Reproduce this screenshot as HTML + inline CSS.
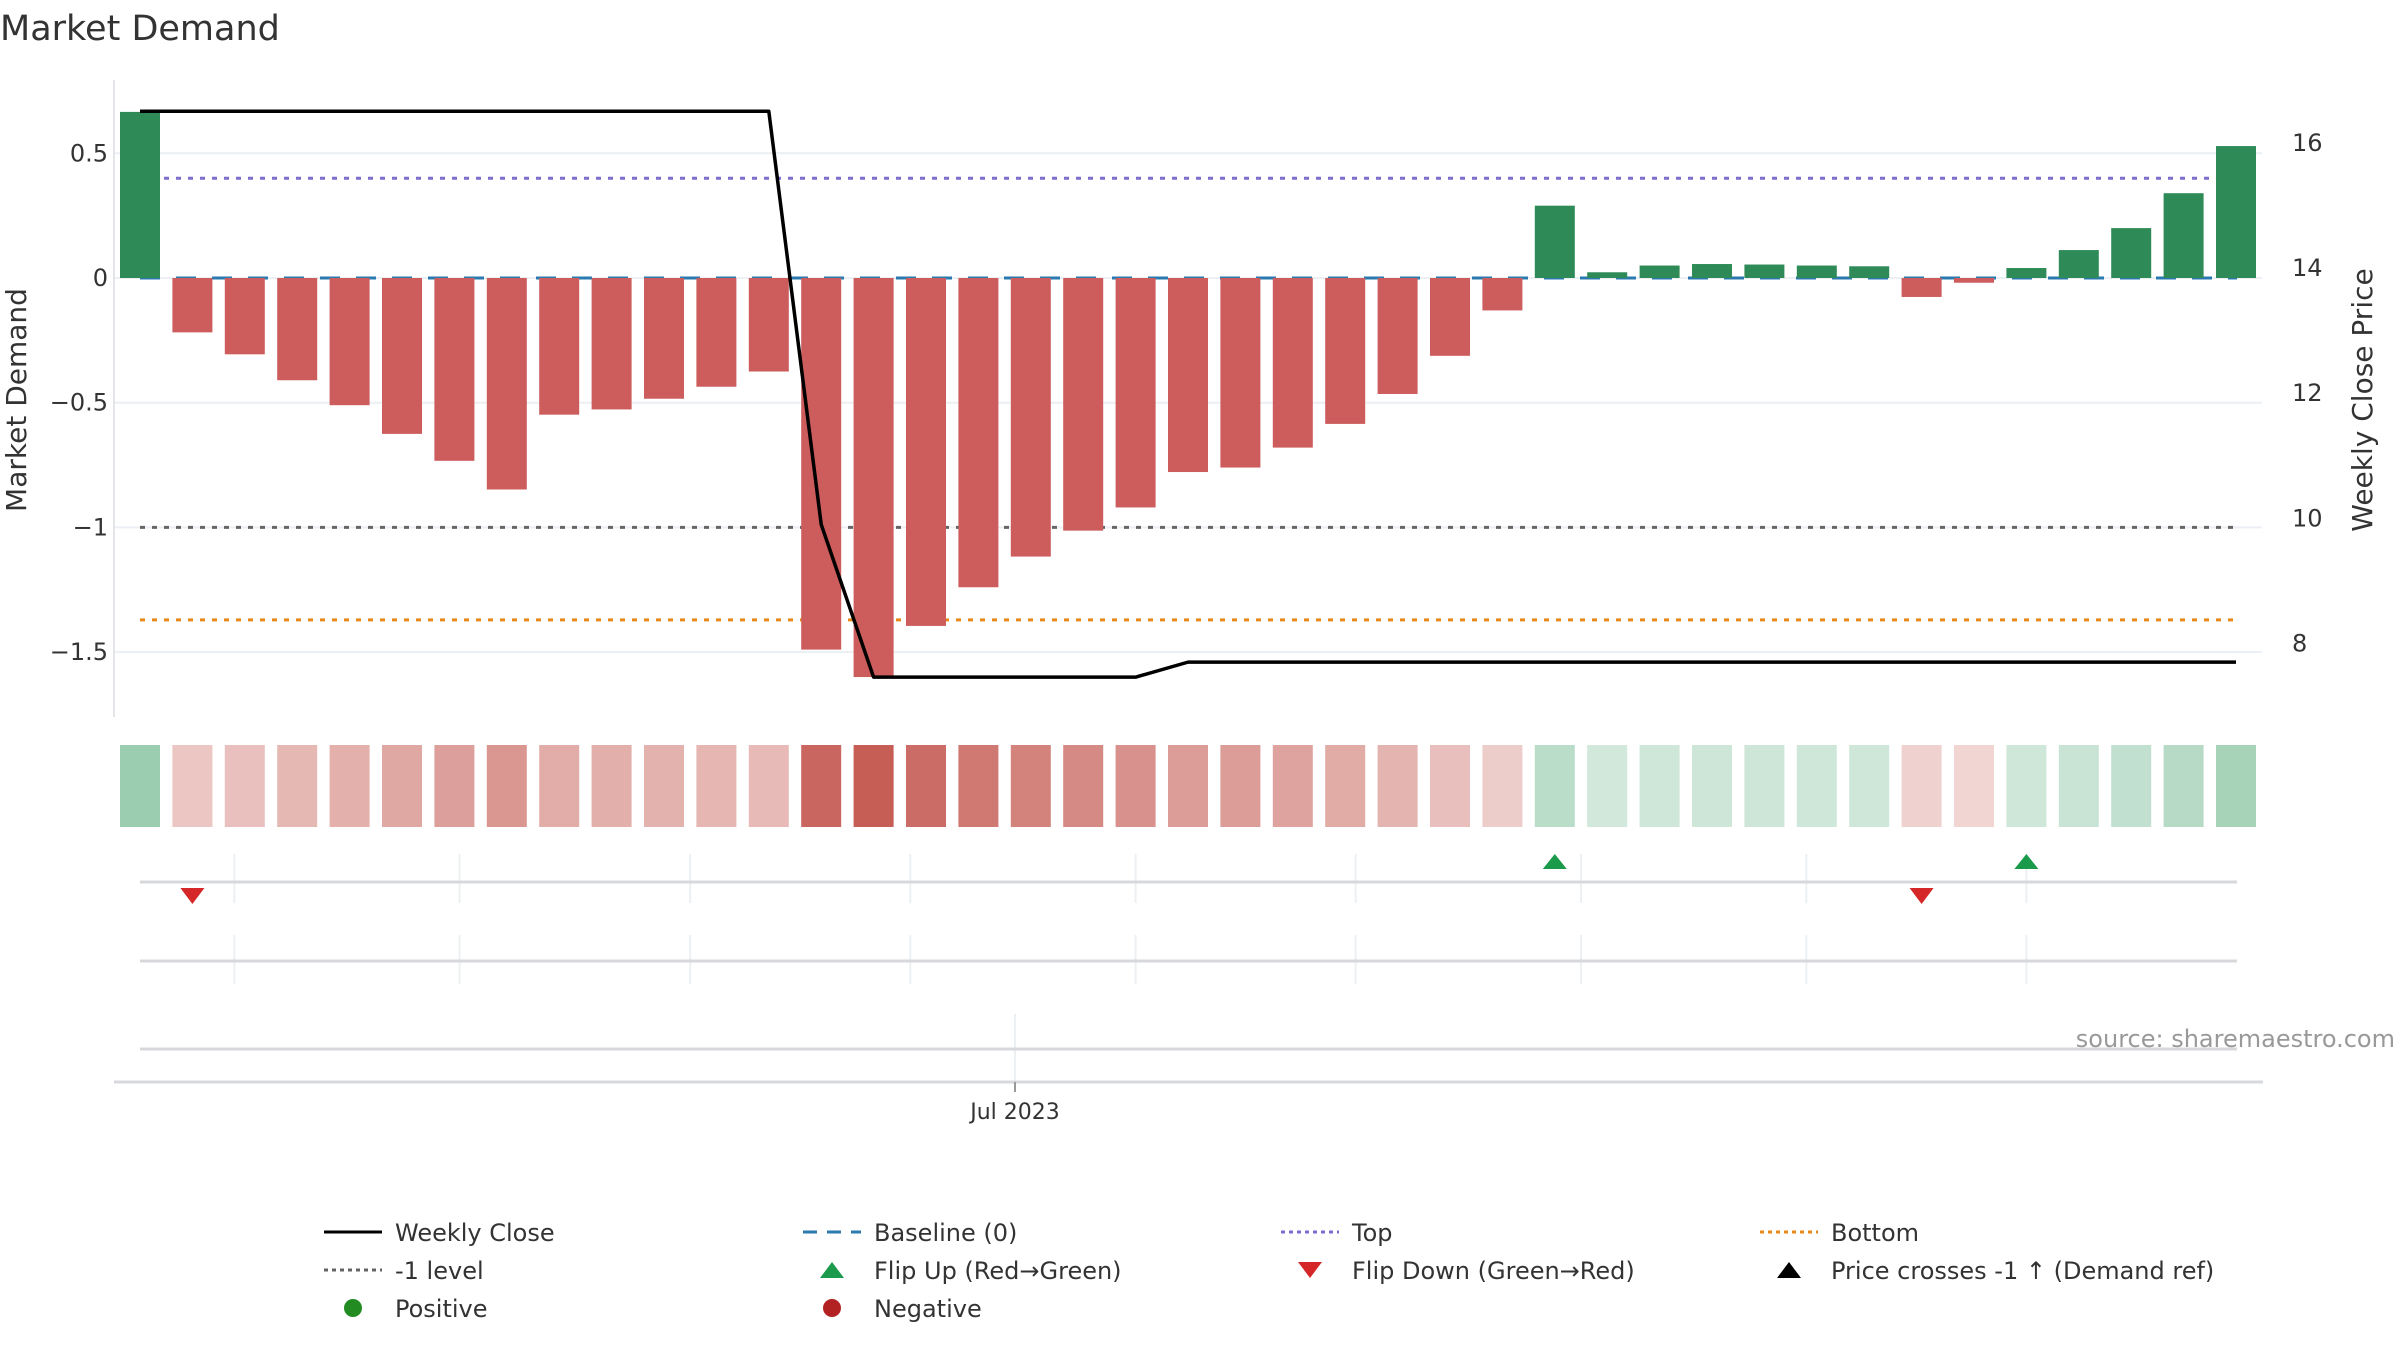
<!DOCTYPE html>
<html><head><meta charset="utf-8">
<style>
html,body{margin:0;padding:0;background:#fff;}
svg{display:block;font-family:"DejaVu Sans","Liberation Sans",sans-serif;}
</style></head>
<body>
<svg id="chart" width="2400" height="1350" viewBox="0 0 2400 1350" xmlns="http://www.w3.org/2000/svg">
<text x="0" y="40" font-size="35" fill="#333">Market Demand</text>
<g id="grid"></g>
<g id="panels"></g>
<g id="refs"></g>
<g id="bars"></g>
<g id="price"></g>
<g id="heat"></g>
<g id="flips"></g>
<g id="axes"></g>
<text transform="translate(26,400) rotate(-90)" text-anchor="middle" font-size="28" fill="#333">Market Demand</text>
<text transform="translate(2372,400) rotate(-90)" text-anchor="middle" font-size="28" fill="#333">Weekly Close Price</text>
<text x="2395" y="1047" text-anchor="end" font-size="24" fill="#999">source: sharemaestro.com</text>
<g id="legend"></g>
</svg>
<script>
const demand = [0.666,-0.218,-0.306,-0.41,-0.51,-0.625,-0.733,-0.848,-0.548,-0.527,-0.484,-0.436,-0.375,-1.49,-1.6,-1.395,-1.24,-1.117,-1.013,-0.92,-0.778,-0.76,-0.68,-0.585,-0.465,-0.312,-0.13,0.29,0.023,0.05,0.056,0.054,0.05,0.047,-0.076,-0.019,0.04,0.112,0.2,0.34,0.529];
const weeklyClose = [16.6,16.6,16.6,16.6,16.6,16.6,16.6,16.6,16.6,16.6,16.6,16.6,16.6,10.0,7.56,7.56,7.56,7.56,7.56,7.56,7.8,7.8,7.8,7.8,7.8,7.8,7.8,7.8,7.8,7.8,7.8,7.8,7.8,7.8,7.8,7.8,7.8,7.8,7.8,7.8,7.8];
const flipUpIdx = [27,36];
const flipDownIdx = [1,34];
const leftTicks = [0.5,0,-0.5,-1,-1.5];
const leftTickLabels = ["0.5","0","\u22120.5","\u22121","\u22121.5"];
const rightTicks = [16,14,12,10,8];
const refTop = 0.4, refBottom = -1.371, refMinus1 = -1, refBase = 0;
const monthTickIdx = [1.8,6.1,10.5,14.7,19.0,23.2,27.5,31.8,36.0];

const NS="http://www.w3.org/2000/svg";
function mk(parent,tag,attrs){const e=document.createElementNS(NS,tag);for(const k in attrs)e.setAttribute(k,attrs[k]);parent.appendChild(e);return e;}
const x0=140, dx=52.4, bw=40;
const xs=i=>x0+i*dx;
const yL=v=>278-v*249.4;
const yR=p=>274-(p-14)*62.6;
const G=id=>document.getElementById(id);

// grid
const grid=G('grid');
leftTicks.forEach((t,i)=>{
  const l=mk(grid,'line',{x1:113,x2:2262,y1:yL(t),y2:yL(t),stroke:'#eceff3','stroke-width':2});
  
  
});
// reference lines
const refs=G('refs');
[[refTop,'#7b6fd0','5,7','top-line'],[refMinus1,'#666','5,7','minus1-line'],[refBottom,'#e8891c','5,7','bottom-line'],[refBase,'#2a7ab0','20,16','baseline-line']].forEach(r=>{
  const l=mk(refs,'line',{x1:140,x2:2237,y1:yL(r[0]),y2:yL(r[0]),stroke:r[1],'stroke-width':3,'stroke-dasharray':r[2]});
  
  
});
// bars
const bars=G('bars');
demand.forEach((v,i)=>{
  const y=Math.min(yL(0),yL(v)), h=Math.abs(yL(v)-yL(0));
  const b=mk(bars,'rect',{x:xs(i)-bw/2,y:y,width:bw,height:h,fill:v>=0?'#2e8b57':'#cd5c5c'});
  
  
});
// price line
const pts=weeklyClose.map((p,i)=>xs(i)+','+yR(p)).join(' ');
const pl=mk(G('price'),'polyline',{points:pts,fill:'none',stroke:'#000','stroke-width':3.5,'stroke-linejoin':'round'});


// heatmap
const heat=G('heat');
function mix(c,t){return 'rgb('+c.map(v=>Math.round(255-(255-v)*t)).join(',')+')';}
demand.forEach((v,i)=>{
  const t=Math.min(1,0.25+0.75*Math.abs(v)/1.6);
  const col=v>=0?mix([46,150,90],t*0.85):mix([198,94,86],t);
  const c=mk(heat,'rect',{x:xs(i)-bw/2,y:745,width:bw,height:82,fill:col});
  
  
});
// lower panels
const pn=G('panels');
monthTickIdx.forEach((m,i)=>{
  const x=xs(m);
  const a=mk(pn,'line',{x1:x,x2:x,y1:854,y2:903,stroke:'#edf0f3','stroke-width':2});
  
  
  const b=mk(pn,'line',{x1:x,x2:x,y1:935,y2:984,stroke:'#edf0f3','stroke-width':2});
  
  
});
const jx=1015;
const jg=mk(pn,'line',{x1:jx,x2:jx,y1:1014,y2:1082,stroke:'#edf0f3','stroke-width':2});


[882,961,1049].forEach((y,i)=>{
  const l=mk(pn,'line',{x1:140,x2:2237,y1:y,y2:y,stroke:'#d6d8db','stroke-width':3});
  
  
});
// flips
const fl=G('flips');
flipUpIdx.forEach(i=>{
  const x=xs(i);
  const p=mk(fl,'polygon',{points:(x-12)+',869 '+(x+12)+',869 '+x+',854',fill:'#1a9a4a'});
  
  
});
flipDownIdx.forEach(i=>{
  const x=xs(i);
  const p=mk(fl,'polygon',{points:(x-12)+',888 '+(x+12)+',888 '+x+',904',fill:'#d62728'});
  
  
});
// axes
const ax=G('axes');
const la=mk(ax,'line',{x1:114,x2:114,y1:80,y2:717,stroke:'#e3e5e8','stroke-width':2});


const xa=mk(ax,'line',{x1:114,x2:2263,y1:1082,y2:1082,stroke:'#d6d8db','stroke-width':3});


const xt=mk(ax,'line',{x1:jx,x2:jx,y1:1082,y2:1092,stroke:'#999','stroke-width':2});


const jl=mk(ax,'text',{x:jx,y:1119,'text-anchor':'middle','font-size':22,fill:'#333'});
jl.textContent='Jul 2023';


leftTicks.forEach((t,i)=>{
  const e=mk(ax,'text',{x:108,y:yL(t)+8,'text-anchor':'end','font-size':24,fill:'#333'});
  e.textContent=leftTickLabels[i];
  
  
});
rightTicks.forEach(t=>{
  const e=mk(ax,'text',{x:2292,y:yR(t)+2,'font-size':24,fill:'#333'});
  e.textContent=String(t);
  
  
});
// legend
const lg=G('legend');
const cols=[324,803,1281,1760], rows=[1232,1270,1308];
const items=[
 [0,0,'line','#000','none','Weekly Close'],[1,0,'line','#2a7ab0','14,10','Baseline (0)'],[2,0,'line','#7b6fd0','4,4','Top'],[3,0,'line','#e8891c','4,4','Bottom'],
 [0,1,'line','#666','4,4','-1 level'],[1,1,'up','#1a9a4a','','Flip Up (Red\u2192Green)'],[2,1,'down','#d62728','','Flip Down (Green\u2192Red)'],[3,1,'up','#000','','Price crosses -1 \u2191 (Demand ref)'],
 [0,2,'dot','#228b22','','Positive'],[1,2,'dot','#b22222','','Negative']];
items.forEach(it=>{
  const g=mk(lg,'g',{});
  
  
  const x=cols[it[0]], y=rows[it[1]];
  if(it[2]==='line'){mk(g,'line',{x1:x,x2:x+58,y1:y,y2:y,stroke:it[3],'stroke-width':3,'stroke-dasharray':it[4]});}
  else if(it[2]==='up'){mk(g,'polygon',{points:(x+17)+','+(y+8)+' '+(x+41)+','+(y+8)+' '+(x+29)+','+(y-8),fill:it[3]});}
  else if(it[2]==='down'){mk(g,'polygon',{points:(x+17)+','+(y-8)+' '+(x+41)+','+(y-8)+' '+(x+29)+','+(y+8),fill:it[3]});}
  else {mk(g,'circle',{cx:x+29,cy:y,r:9,fill:it[3]});}
  const t=mk(g,'text',{x:x+71,y:y+9,'font-size':24,fill:'#333'});
  t.textContent=it[5];
});
</script>
</body></html>
